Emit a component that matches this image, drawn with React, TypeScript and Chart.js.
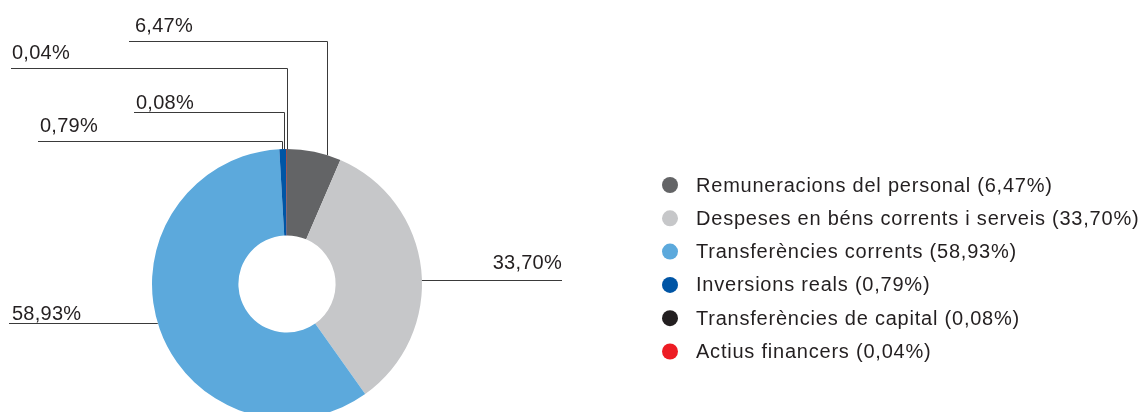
import React, { useEffect, useRef } from "react";
import { Chart, registerables } from "chart.js";

Chart.register(...registerables);

// ---- data ----
const categories = [
  "Remuneracions del personal",
  "Despeses en béns corrents i serveis",
  "Transferències corrents",
  "Inversions reals",
  "Transferències de capital",
  "Actius financers",
];
const values = [6.47, 33.7, 58.93, 0.79, 0.08, 0.04];
const valueLabels = ["6,47%", "33,70%", "58,93%", "0,79%", "0,08%", "0,04%"];
const colors = ["#636466", "#c6c7c9", "#5ca9dc", "#0055a5", "#231f20", "#ed1c24"];

// ---- label layout (annotation styling) ----
type LabelCfg = {
  kind: "top" | "side";
  anchor: number; // fraction along slice arc
  nudge: number; // px horizontal nudge of the vertical leader
  lineY?: number;
  lineFromX: number; // x where horizontal leg ends (away from chart)
  textX: number;
  align: "left" | "right";
  gap: number; // baseline distance above line
};
const labelLayout: LabelCfg[] = [
  { kind: "top", anchor: 0.74, nudge: 0, lineY: 41, lineFromX: 129, textX: 135, align: "left", gap: 10 },
  { kind: "side", anchor: 0.535, nudge: 0, lineFromX: 562, textX: 562, align: "right", gap: 12 },
  { kind: "side", anchor: 0.512, nudge: 0, lineFromX: 9, textX: 12, align: "left", gap: 4 },
  { kind: "top", anchor: 0.5, nudge: -1, lineY: 141, lineFromX: 38, textX: 40, align: "left", gap: 10 },
  { kind: "top", anchor: 0.5, nudge: -2, lineY: 112, lineFromX: 134, textX: 136, align: "left", gap: 4 },
  { kind: "top", anchor: 0.5, nudge: 0, lineY: 68, lineFromX: 11, textX: 12, align: "left", gap: 10 },
];

const FONT = "20px 'Liberation Sans', Arial, Helvetica, sans-serif";
const TEXT_COLOR = "#231f20";
const LINE_COLOR = "#3a3a3a";

const legendX = 662;
const legendTop = 185;
const legendStep = 33.3;

const leaderPlugin = {
  id: "leaders",
  afterDatasetsDraw(chart: any) {
    const ctx: any = chart.ctx;
    const meta = chart.getDatasetMeta(0);
    ctx.save();
    ctx.font = FONT;
    ctx.lineWidth = 1;
    ctx.strokeStyle = LINE_COLOR;
    ctx.fillStyle = TEXT_COLOR;
    ctx.textBaseline = "alphabetic";
    ctx.letterSpacing = "0.25px";
    meta.data.forEach((arc: any, i: number) => {
      const cfg = labelLayout[i];
      const p = arc.getProps(["x", "y", "startAngle", "endAngle", "outerRadius"], true);
      const a = p.startAngle + (p.endAngle - p.startAngle) * cfg.anchor;
      const r = p.outerRadius;
      if (cfg.kind === "top") {
        const ex = Math.round(p.x + r * Math.cos(a) + cfg.nudge) + 0.5;
        const dx = ex - p.x;
        const ey = p.y - Math.sqrt(Math.max(r * r - dx * dx, 0));
        const ly = (cfg.lineY as number) + 0.5;
        ctx.beginPath();
        ctx.moveTo(ex, ey);
        ctx.lineTo(ex, ly);
        ctx.lineTo(cfg.lineFromX, ly);
        ctx.stroke();
        ctx.textAlign = cfg.align;
        ctx.fillText(valueLabels[i], cfg.textX, ly - cfg.gap);
      } else {
        const ex = p.x + r * Math.cos(a);
        const ly = Math.round(p.y + r * Math.sin(a)) + 0.5;
        ctx.beginPath();
        ctx.moveTo(ex, ly);
        ctx.lineTo(cfg.lineFromX, ly);
        ctx.stroke();
        ctx.textAlign = cfg.align;
        ctx.fillText(valueLabels[i], cfg.textX, ly - cfg.gap);
      }
    });
    // legend
    ctx.textAlign = "left";
    ctx.textBaseline = "middle";
    ctx.letterSpacing = "0.78px";
    categories.forEach((c, i) => {
      const cy = legendTop + i * legendStep;
      ctx.beginPath();
      ctx.fillStyle = colors[i];
      ctx.arc(legendX + 8, cy, 8, 0, Math.PI * 2);
      ctx.fill();
      ctx.fillStyle = TEXT_COLOR;
      ctx.fillText(`${c} (${valueLabels[i]})`, legendX + 34, cy + 1);
    });
    ctx.restore();
  },
};

export default function App() {
  const ref = useRef<HTMLCanvasElement | null>(null);
  useEffect(() => {
    if (!ref.current) return;
    const chart = new Chart(ref.current, {
      type: "doughnut",
      data: {
        labels: categories,
        datasets: [
          {
            data: values,
            backgroundColor: colors,
            borderWidth: 0,
            hoverOffset: 0,
          },
        ],
      },
      options: {
        responsive: false,
        animation: false,
        cutout: "36%",
        layout: { padding: { left: 152, right: 720, top: 149, bottom: 11 } },
        plugins: {
          legend: { display: false },
          tooltip: { enabled: false },
        },
        events: [],
      },
      plugins: [leaderPlugin],
    });
    return () => chart.destroy();
  }, []);
  return (
    <div
      style={{
        position: "absolute",
        left: 0,
        top: 0,
        width: 1142,
        height: 412,
        overflow: "hidden",
        background: "#fff",
      }}
    >
      <canvas ref={ref} width={1142} height={430} style={{ display: "block" }} />
    </div>
  );
}
